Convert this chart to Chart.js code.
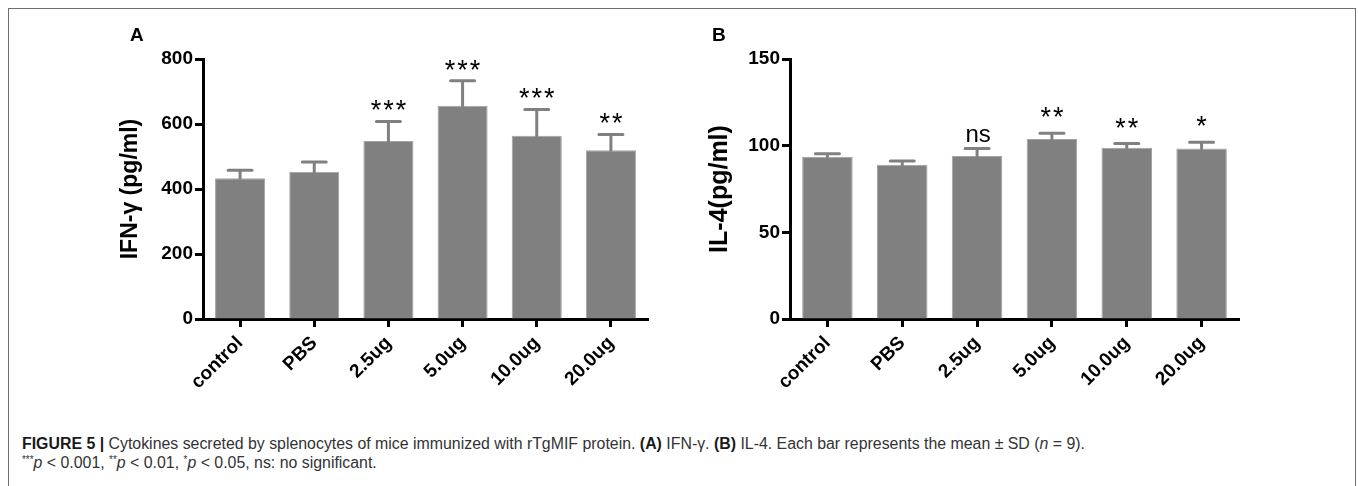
<!DOCTYPE html>
<html>
<head>
<meta charset="utf-8">
<script src="https://cdn.jsdelivr.net/npm/chart.js@4.4.1/dist/chart.umd.min.js"></script>
<style>
  html, body { margin: 0; padding: 0; background: #fff; }
  body { width: 1358px; height: 486px; position: relative; overflow: hidden; font-family: "Liberation Sans", Arial, sans-serif; }
  #frame { position: absolute; left: 8px; top: 8px; width: 1346px; height: 500px; border: 1px solid #6e6e6e; border-bottom: none; }
  .wrap { position: absolute; top: 0; width: 679px; height: 410px; }
  .panel { position: absolute; top: 24px; font: bold 19px "Liberation Sans", Arial, sans-serif; color: #000; }
  #caption { position: absolute; left: 22px; top: 434px; font-family: "Liberation Sans Narrow", "Liberation Sans", Arial, sans-serif; font-size: 16px; line-height: 19px; color: #333; white-space: nowrap; transform-origin: 0 0; }
  #caption b { color: #1a1a1a; }
  #caption sup { font-size: 10px; vertical-align: 5px; line-height: 0; }
</style>
</head>
<body>
<div id="frame"></div>
<div class="wrap" style="left:0"><canvas id="chartA"></canvas></div>
<div class="wrap" style="left:679px"><canvas id="chartB"></canvas></div>
<div class="panel" style="left:130px">A</div>
<div class="panel" style="left:712px">B</div>
<div id="caption">
  <span id="line1"><b>FIGURE 5 |</b> Cytokines secreted by splenocytes of mice immunized with rTgMIF protein. <b>(A)</b> IFN-γ. <b>(B)</b> IL-4. Each bar represents the mean ± SD (<i>n</i> = 9).</span><br>
  <span><sup>***</sup><i>p</i> &lt; 0.001, <sup>**</sup><i>p</i> &lt; 0.01, <sup>*</sup><i>p</i> &lt; 0.05, ns: no significant.</span>
</div>
<script>
// groupes
const groups = ['control', 'PBS', '2.5ug', '5.0ug', '10.0ug', '20.0ug'];

// A : IFN-gamma
const meanA = [433, 453, 548, 656, 564, 519];
const sdA = [25, 30, 60, 77, 81, 49];
const sigA = ['', '', '***', '***', '***', '**'];
const ticksA = [0, 200, 400, 600, 800];

// B : IL-4
const meanB = [93.6, 89.0, 94.0, 103.9, 98.8, 98.3];
const sdB = [1.8, 2.2, 4.3, 3.3, 2.4, 3.7];
const sigB = ['', '', 'ns', '**', '**', '*'];
const ticksB = [0, 50, 100, 150];

const barGrey = '#808080';

// barres d'erreur (vers le haut seulement) + étoiles
const errorBars = {
    id: 'errorBars',
    afterDatasetsDraw(chart, args, opts) {
        const { ctx, scales: { y } } = chart;
        const meta = chart.getDatasetMeta(0);
        ctx.save();
        meta.data.forEach((bar, i) => {
            const top = y.getPixelForValue(opts.mean[i]);
            const cap = y.getPixelForValue(opts.mean[i] + opts.sd[i]);
            ctx.strokeStyle = barGrey;
            ctx.lineWidth = 3;
            ctx.lineCap = 'round';
            ctx.beginPath();
            ctx.moveTo(bar.x, top);
            ctx.lineTo(bar.x, cap);
            ctx.moveTo(bar.x - 12, cap);
            ctx.lineTo(bar.x + 12, cap);
            ctx.stroke();
            if (opts.sig[i]) {
                ctx.fillStyle = '#000';
                ctx.font = opts.sig[i] === 'ns' ? '24px "Liberation Sans", Arial' : '27px "Liberation Sans", Arial';
                ctx.letterSpacing = opts.sig[i] === 'ns' ? '0px' : '2px';
                ctx.textAlign = 'center';
                ctx.textBaseline = 'alphabetic';
                ctx.fillText(opts.sig[i], bar.x + 1, cap - opts.gap);
            }
        });
        ctx.restore();
    }
};

function makeChart(id, cfg) {
    return new Chart(document.getElementById(id), {
        type: 'bar',
        data: {
            labels: groups,
            datasets: [{
                data: cfg.mean,
                backgroundColor: barGrey,
                borderColor: '#a3a3a3',
                borderWidth: 1,
                barPercentage: 0.675,
                categoryPercentage: 1,
            }],
        },
        options: {
            responsive: true,
            maintainAspectRatio: false,
            animation: false,
            layout: { padding: cfg.padding },
            plugins: {
                legend: { display: false },
                tooltip: { enabled: false },
                errorBars: { mean: cfg.mean, sd: cfg.sd, sig: cfg.sig, gap: cfg.gap },
            },
            scales: {
                x: {
                    afterFit: (s) => { s.height = 91; },
                    grid: { drawOnChartArea: false, offset: false, tickLength: 8, tickWidth: 3, tickColor: '#000' },
                    border: { display: true, color: '#000', width: 3 },
                    ticks: {
                        color: '#000',
                        maxRotation: 45,
                        minRotation: 45,
                        padding: 5,
                        font: { family: '"Liberation Sans", Arial', size: 19, weight: 'bold' },
                    },
                },
                y: {
                    min: 0,
                    max: cfg.ticks[cfg.ticks.length - 1],
                    afterFit: (s) => { s.width = cfg.yWidth; },
                    afterBuildTicks: (s) => { s.ticks = cfg.ticks.map(v => ({ value: v })); },
                    grid: { drawOnChartArea: false, tickLength: 8, tickWidth: 3, tickColor: '#000' },
                    border: { display: true, color: '#000', width: 3 },
                    ticks: {
                        color: '#000',
                        padding: 2,
                        font: { family: '"Liberation Sans", Arial', size: 19, weight: 'bold' },
                    },
                    title: {
                        display: true,
                        text: cfg.title,
                        color: '#000',
                        padding: { top: 0, bottom: 0 },
                        font: { family: '"Liberation Sans", Arial', size: cfg.titleSize, weight: 'bold' },
                    },
                },
            },
        },
        plugins: [errorBars],
    });
}

document.addEventListener('DOMContentLoaded', () => {
    makeChart('chartA', {
        mean: meanA, sd: sdA, sig: sigA, ticks: ticksA, gap: 2,
        title: 'IFN-γ (pg/ml)', titleSize: 23,
        padding: { left: 117, top: 59, right: 31, bottom: 0 }, yWidth: 86,
    });
    makeChart('chartB', {
        mean: meanB, sd: sdB, sig: sigB, ticks: ticksB, gap: 7,
        title: 'IL-4(pg/ml)', titleSize: 25,
        padding: { left: 26, top: 59, right: 119, bottom: 0 }, yWidth: 85,
    });

    // légende : ajuster la largeur de la première ligne
    const cap = document.getElementById('caption');
    const w = document.getElementById('line1').getBoundingClientRect().width;
    cap.style.transform = 'scaleX(' + (1063 / w) + ')';
});
</script>
</body>
</html>
